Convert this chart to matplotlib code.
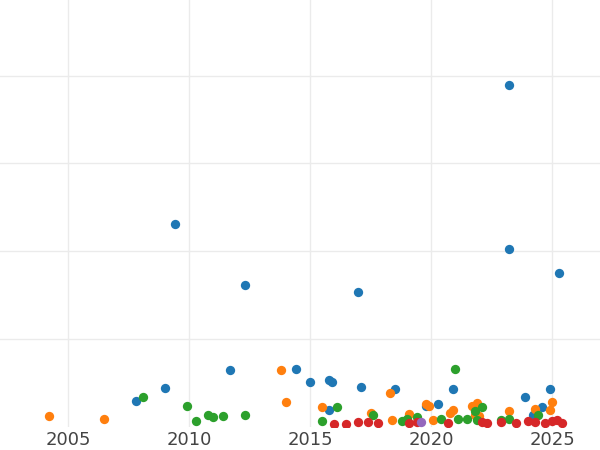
import numpy as np
import matplotlib.pyplot as plt

# y in pixel rows from reference, converted below
blue_x = [2007.8, 2009.0, 2009.4, 2011.7, 2012.3, 2014.4, 2015.0, 2015.8, 2015.9, 2015.8, 2017.0, 2017.1, 2018.5, 2019.8, 2020.3, 2020.9, 2023.2, 2023.2, 2023.9, 2024.6, 2024.9, 2025.3, 2024.2]
blue_p = [402, 389, 225, 371, 286, 370, 383, 381, 383, 411, 293, 388, 390, 407, 405, 390, 85, 250, 398, 408, 390, 274, 416]
orange_x = [2004.2, 2006.5, 2013.8, 2014.0, 2015.5, 2017.5, 2018.3, 2018.4, 2019.1, 2019.8, 2019.9, 2020.1, 2020.8, 2020.9, 2021.7, 2021.9, 2022.0, 2023.2, 2024.3, 2024.9, 2025.0, 2021.8]
orange_p = [417, 420, 371, 403, 408, 414, 394, 421, 415, 405, 407, 421, 414, 411, 407, 404, 417, 412, 410, 411, 403, 416]
green_x = [2008.1, 2009.9, 2010.3, 2010.8, 2011.0, 2011.4, 2012.3, 2015.5, 2016.1, 2017.6, 2018.8, 2019.0, 2019.4, 2020.4, 2021.0, 2021.1, 2021.5, 2021.8, 2022.1, 2022.9, 2023.2, 2024.4, 2021.9]
green_p = [398, 407, 422, 416, 418, 417, 416, 422, 408, 416, 422, 420, 418, 420, 370, 420, 420, 412, 408, 421, 420, 416, 421]
red_x = [2016.0, 2016.5, 2017.0, 2017.4, 2017.8, 2019.1, 2019.4, 2020.7, 2022.1, 2022.3, 2022.9, 2023.5, 2024.0, 2024.3, 2024.7, 2025.0, 2025.4, 2025.2]
red_p = [425, 425, 423, 423, 424, 424, 423, 424, 423, 424, 423, 424, 422, 423, 424, 422, 424, 421]
purple_x = [2019.6]
purple_p = [423]

def conv(p):
    return (428 - np.array(p)) / 88.0

fig, ax = plt.subplots(figsize=(6, 4.5), dpi=100)
fig.subplots_adjust(left=0, right=1, top=1, bottom=0.052)
for xs, ps, c in [(blue_x, blue_p, '#1f77b4'), (orange_x, orange_p, '#ff7f0e'),
                  (green_x, green_p, '#2ca02c'), (red_x, red_p, '#d62728'),
                  (purple_x, purple_p, '#9467bd')]:
    ax.scatter(xs, conv(ps), s=45, color=c, zorder=3, linewidths=0)

ax.set_xlim(2002.19, 2026.98)
ax.set_ylim(0, 428 / 88.0)
ax.set_xticks([2005, 2010, 2015, 2020, 2025])
ax.set_yticks([1, 2, 3, 4])
ax.set_yticklabels([])
ax.grid(True, color='#ebebeb', lw=1)
ax.tick_params(length=0, labelsize=13, colors='#444444')
for s in ax.spines.values():
    s.set_visible(False)
plt.savefig('out.png')
